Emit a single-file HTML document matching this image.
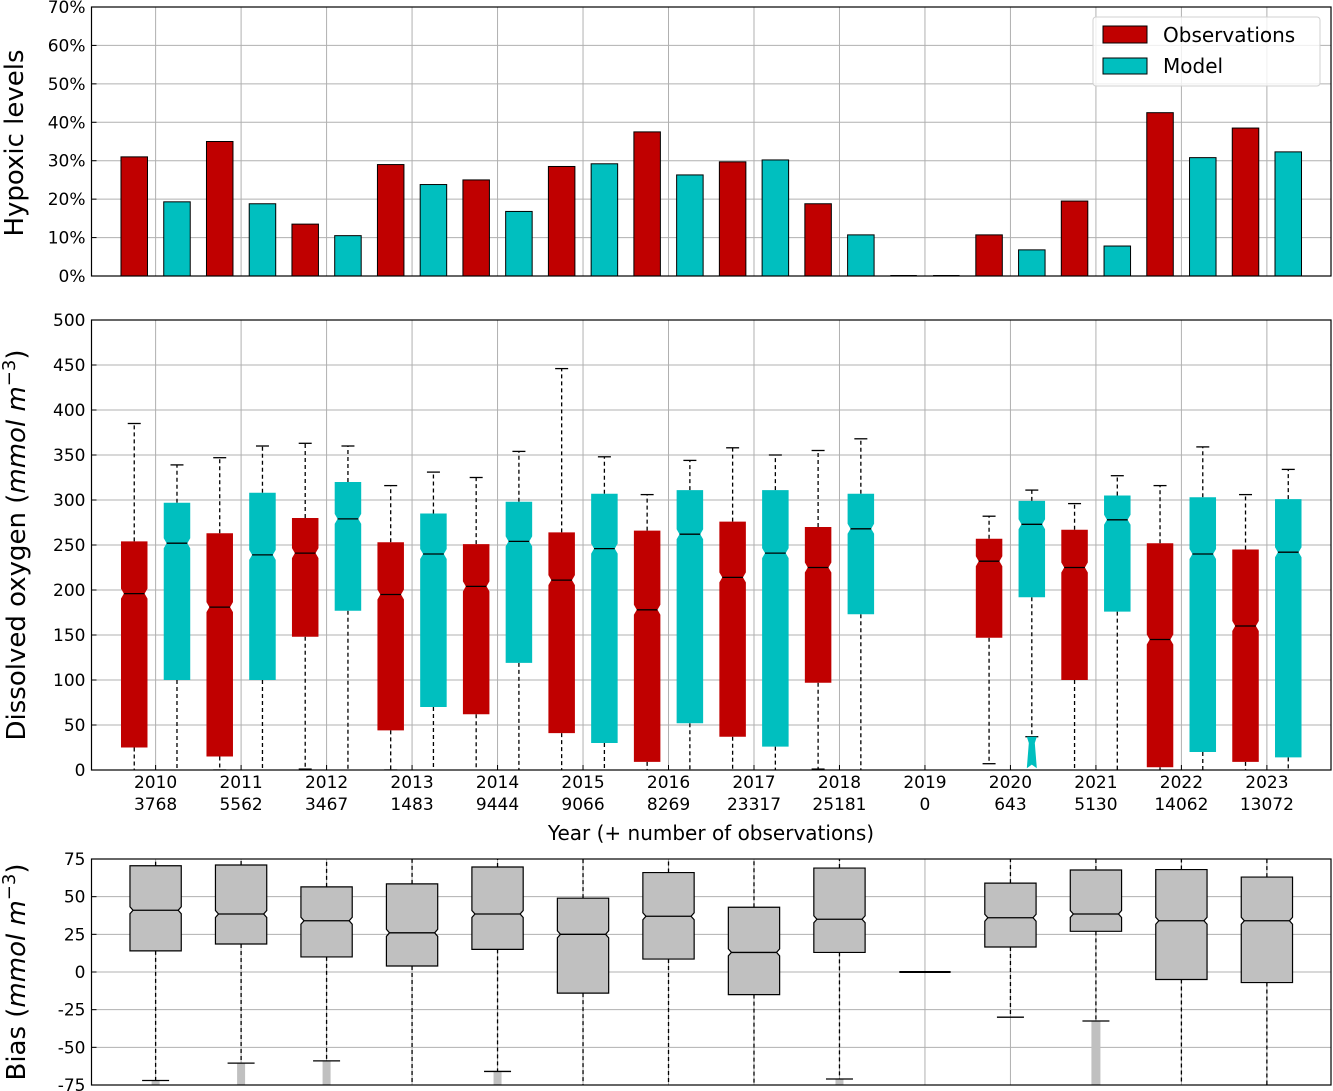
<!DOCTYPE html>
<html><head><meta charset="utf-8"><style>
html,body{margin:0;padding:0;background:#fff}
svg{display:block;font-family:"DejaVu Sans","Liberation Sans",sans-serif}
</style></head><body>
<svg id="fig" width="1333" height="1091" viewBox="0 0 1333 1091" xmlns="http://www.w3.org/2000/svg"></svg>
<script>
const years=["2010","2011","2012","2013","2014","2015","2016","2017","2018","2019","2020","2021","2022","2023"];
const counts=["3768","5562","3467","1483","9444","9066","8269","23317","25181","0","643","5130","14062","13072"];
const hypoxObs=[31,35,13.5,29,25,28.5,37.5,29.7,18.8,0,10.7,19.5,42.5,38.5];
const hypoxMod=[19.3,18.8,10.5,23.8,16.8,29.2,26.3,30.2,10.7,0,6.8,7.8,30.8,32.3];
// DO boxes: [whiskerLow, q1, median, q3, whiskerHigh]; null = no data
const doObs=[[-10,25,196,254,385],[0,15,181,263,347],[1,148,241,280,363],[0,44,195,253,316],[-10,62,204,251,325],[-10,41,211,264,446],[-10,9,178,266,306],[-10,37,214,276,358],[1,97,225,270,355],null,[7,147,232,257,282],[-10,100,225,267,296],[-10,3,145,252,316],[-10,9,160,245,306]];
const doMod=[[-10,100,252,297,339],[-10,100,239,308,360],[-10,177,279,320,360],[-10,70,240,285,331],[-10,119,254,298,354],[-10,30,246,307,348],[-10,52,262,311,344],[-10,26,241,311,350],[-10,173,268,307,368],null,[37,192,273,299,311],[-10,176,278,305,327],[-10,20,240,303,359],[-10,14,242,301,334]];
const biasBox=[[-72,14,41,70.5,100],[-60.5,18.6,38.5,71,100],[-59,10,34,56.5,100],[-90,4,26,58.5,100],[-66,15,38.5,69.7,100],[-90,-14,25,49,100],[-90,8.6,37,66,100],[-90,-15,13,43,100],[-71,13,35,69,100],[0,0,0,0,0],[-30,16.6,36,59,100],[-32.5,27,38.5,67.7,100],[-90,-5,34,68,100],[-90,-7,34,63,100]];
const biasFlierLow=[-75,-80,-80,null,-80,null,null,null,-80,null,null,-80,null,null];
const hypTicks=[0,10,20,30,40,50,60,70];
const doTicks=[0,50,100,150,200,250,300,350,400,450,500];
const biasTicks=[-75,-50,-25,0,25,50,75];

const NS="http://www.w3.org/2000/svg";
const svg=document.getElementById('fig');
function mk(tag,attrs,parent,name,inter){const e=document.createElementNS(NS,tag);for(const k in attrs)e.setAttribute(k,attrs[k]);(parent||svg).appendChild(e);


return e;}
const X0=91.5,X1=1331;
const xs=i=>X0+(i+1-0.25)*(X1-X0)/14.5;
const unit=(X1-X0)/14.5;
function panel(top,bot,ymin,ymax,ticks,fmt,name){
  const ys=v=>bot-(v-ymin)/(ymax-ymin)*(bot-top);
  const g=mk('g',{},svg,name+'-panel');
  const cid=name+'clip';
  const cp=mk('clipPath',{id:cid},g,name+'-clip');
  mk('rect',{x:X0,y:top,width:X1-X0,height:bot-top},cp,'clip-rect');
  const grid=mk('g',{'clip-path':`url(#${cid})`},g,name+'-grid');
  ticks.forEach(t=>{mk('line',{x1:X0,x2:X1,y1:ys(t),y2:ys(t),stroke:'#b0b0b0','stroke-width':1},grid,'gridline-y');
    const tx=mk('text',{x:X0-6,y:ys(t)+6,'text-anchor':'end','font-size':17,fill:'#000'},g,'y-tick-label');tx.textContent=fmt(t);
    mk('line',{x1:X0,x2:X0+5,y1:ys(t),y2:ys(t),stroke:'#000'},g,'y-tick');});
  years.forEach((y,i)=>mk('line',{x1:xs(i),x2:xs(i),y1:top,y2:bot,stroke:'#b0b0b0','stroke-width':1},grid,'gridline-x'));
  const plot=mk('g',{'clip-path':`url(#${cid})`},g,name+'-plot');
  const frame=()=>mk('rect',{x:X0,y:top,width:X1-X0,height:bot-top,fill:'none',stroke:'#000','stroke-width':1.2},g,name+'-frame');
  return {ys,plot,frame,g};
}
// Panel 1
const p1=panel(7,276,0,70,hypTicks,t=>t+'%','hypoxic');
years.forEach((y,i)=>{
  [[hypoxObs,-0.25,'#c00000','bar-obs-'],[hypoxMod,0.25,'#00bfbf','bar-model-']].forEach(([arr,off,c,n])=>{
    const x=xs(i)+off*unit, w=0.31*unit, v=arr[i];
    if(v<=0){mk('line',{x1:x-w/2,x2:x+w/2,y1:p1.ys(0)-0.5,y2:p1.ys(0)-0.5,stroke:'#000','stroke-width':1},p1.plot,n+y);return;}
    mk('rect',{x:x-w/2,y:p1.ys(v),width:w,height:p1.ys(0)-p1.ys(v),fill:c,stroke:'#000','stroke-width':1},p1.plot,n+y);
  });
});
p1.frame();
const lg=mk('g',{},svg,'legend');
mk('rect',{x:1093,y:17,width:227,height:69,rx:3,fill:'#fff',stroke:'#d0d0d0','fill-opacity':0.8},lg,'legend-box');
mk('rect',{x:1103,y:26,width:44,height:17,fill:'#c00000',stroke:'#000'},lg,'legend-swatch-observations');
mk('rect',{x:1103,y:58,width:44,height:16,fill:'#00bfbf',stroke:'#000'},lg,'legend-swatch-model');
let t=mk('text',{x:1163,y:42,'font-size':20},lg,'legend-label-observations');t.textContent='Observations';
t=mk('text',{x:1163,y:73,'font-size':20},lg,'legend-label-model');t.textContent='Model';
t=mk('text',{transform:'translate(23,143) rotate(-90)','text-anchor':'middle','font-size':26},svg,'y-axis-title-hypoxic');t.textContent='Hypoxic levels';

function box(p,cx,w,b,col,stroke,name,notchH,capW,indF){
  if(!b)return;
  const [lo,q1,md,q3,hi]=b, ys=p.ys, g=mk('g',{},p.plot,name);
  mk('line',{x1:cx,x2:cx,y1:ys(q3),y2:ys(hi),stroke:'#000','stroke-dasharray':'4,3','stroke-width':1.3},g,'whisker-high');
  mk('line',{x1:cx,x2:cx,y1:ys(q1),y2:ys(lo),stroke:'#000','stroke-dasharray':'4,3','stroke-width':1.3},g,'whisker-low');
  mk('line',{x1:cx-capW/2,x2:cx+capW/2,y1:ys(hi),y2:ys(hi),stroke:'#000','stroke-width':1.3},g,'cap-high');
  mk('line',{x1:cx-capW/2,x2:cx+capW/2,y1:ys(lo),y2:ys(lo),stroke:'#000','stroke-width':1.3},g,'cap-low');
  const l=cx-w/2,r=cx+w/2,ind=w*indF;
  const nu=ys(md)-notchH, nl=ys(md)+notchH;
  const d=`M${l},${ys(q1)}L${l},${nl}L${l+ind},${ys(md)}L${l},${nu}L${l},${ys(q3)}L${r},${ys(q3)}L${r},${nu}L${r-ind},${ys(md)}L${r},${nl}L${r},${ys(q1)}Z`;
  mk('path',{d,fill:col,stroke:stroke,'stroke-width':stroke==='none'?0:1.2},g,'box');
  mk('line',{x1:l+ind,x2:r-ind,y1:ys(md),y2:ys(md),stroke:'#000','stroke-width':1.3},g,'median');
}
// Panel 2
const p2=panel(320,770,0,500,doTicks,t=>String(t),'do');
years.forEach((y,i)=>{
  box(p2,xs(i)-0.25*unit,0.31*unit,doObs[i],'#c00000','none','box-obs-'+y,5,13,0.11);
  box(p2,xs(i)+0.25*unit,0.31*unit,doMod[i],'#00bfbf','none','box-model-'+y,5,13,0.11);
});
{const cx=xs(10)+0.25*unit;mk('path',{d:`M${cx-5},${p2.ys(37)}L${cx+5},${p2.ys(37)}L${cx+3},${p2.ys(30)}L${cx+5},${p2.ys(2)}L${cx},${p2.ys(6)}L${cx-5},${p2.ys(2)}L${cx-3},${p2.ys(30)}Z`,fill:'#00bfbf'},p2.plot,'fliers-model-2020');}
p2.frame();
years.forEach((y,i)=>{
  mk('line',{x1:xs(i),x2:xs(i),y1:770,y2:765,stroke:'#000'},p2.g,'x-tick');
  let a=mk('text',{x:xs(i),y:788,'text-anchor':'middle','font-size':17},p2.g,'x-tick-year');a.textContent=y;
  a=mk('text',{x:xs(i),y:810,'text-anchor':'middle','font-size':17},p2.g,'x-tick-count');a.textContent=counts[i];
});
t=mk('text',{x:711,y:840,'text-anchor':'middle','font-size':20},svg,'x-axis-title');t.textContent='Year (+ number of observations)';
t=mk('text',{transform:'translate(25,545) rotate(-90)','text-anchor':'middle','font-size':26},svg,'y-axis-title-do');
t.innerHTML='Dissolved oxygen (<tspan font-style="italic">mmol m</tspan><tspan dy="-10" font-size="18">−3</tspan><tspan dy="10">)</tspan>';
// Panel 3
const p3=panel(859,1085,-75,75,biasTicks,t=>String(t),'bias');
years.forEach((y,i)=>{
  const b=biasBox[i];
  if(biasFlierLow[i]!==null){const cx=xs(i),w=i===11?9:8;
    mk('rect',{x:cx-w/2,y:p3.ys(b[0]),width:w,height:p3.ys(biasFlierLow[i])-p3.ys(b[0]),fill:'#c0c0c0'},p3.plot,'fliers-bias-'+y);}
  if(i===9){mk('line',{x1:xs(i)-0.3*unit,x2:xs(i)+0.3*unit,y1:p3.ys(0),y2:p3.ys(0),stroke:'#000','stroke-width':2},p3.plot,'box-bias-2019');return;}
  box(p3,xs(i),0.6*unit,b,'#c0c0c0','#000','box-bias-'+y,3.5,27,0.06);
});
p3.frame();
t=mk('text',{transform:'translate(25,972) rotate(-90)','text-anchor':'middle','font-size':26},svg,'y-axis-title-bias');
t.innerHTML='Bias (<tspan font-style="italic">mmol m</tspan><tspan dy="-10" font-size="18">−3</tspan><tspan dy="10">)</tspan>';
</script>
</body></html>
